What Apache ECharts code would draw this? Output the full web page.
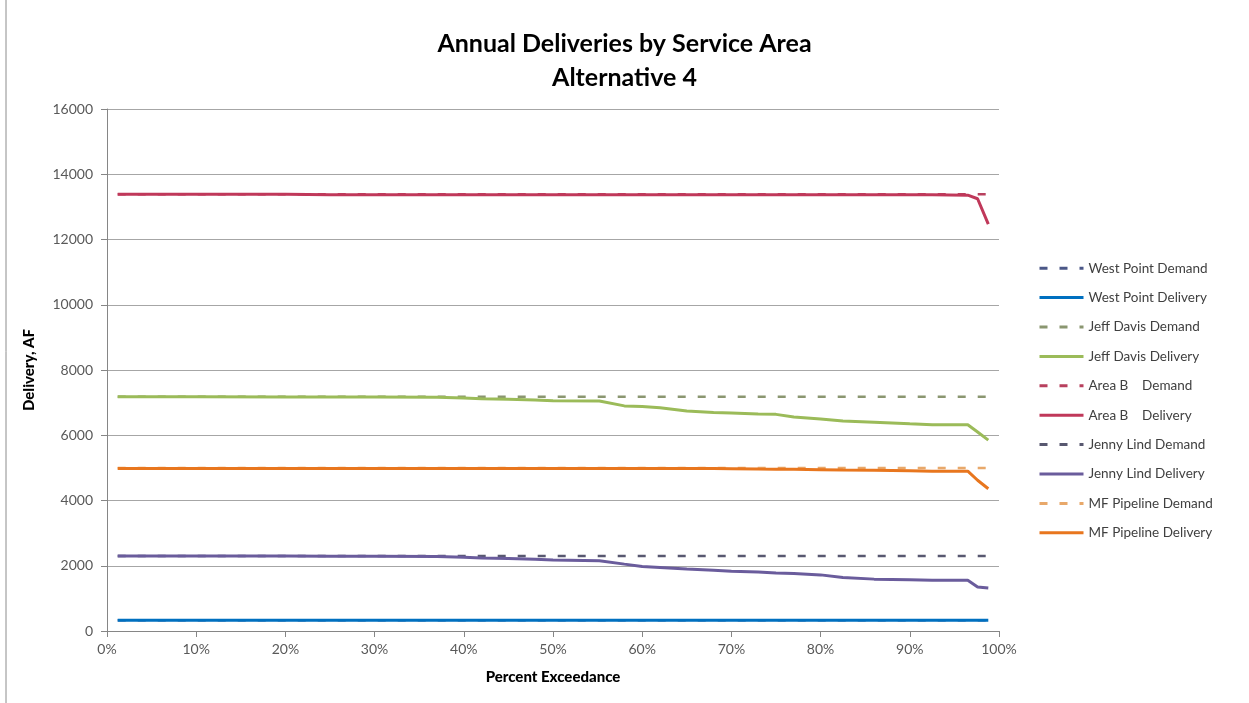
<!DOCTYPE html>
<html>
<head>
<meta charset="utf-8">
<script src="https://cdn.jsdelivr.net/npm/echarts@6/dist/echarts.min.js"></script>
<style>
  html, body { margin: 0; padding: 0; background: #fff; }
  #chart { width: 1249px; height: 703px; }
</style>
</head>
<body>
<div id="chart"></div>
<script>
// Percent exceedance positions (x) shared by every series
const exceedance = [1.2, 10, 20, 25, 30, 37, 40, 42, 45, 48, 50, 55.2, 58, 60, 62, 65, 68, 70, 73, 75, 77, 80, 82.5, 86, 90, 92.5, 96.5, 97.6, 98.8];

// Annual deliveries, AF
const westPointDemand   = [330, 330, 330, 330, 330, 330, 330, 330, 330, 330, 330, 330, 330, 330, 330, 330, 330, 330, 330, 330, 330, 330, 330, 330, 330, 330, 330, 330, 330];
const westPointDelivery = [330, 330, 330, 330, 330, 330, 330, 330, 330, 330, 330, 330, 330, 330, 330, 330, 330, 330, 330, 330, 330, 330, 330, 330, 330, 330, 330, 330, 330];
const jeffDavisDemand   = [7180, 7180, 7180, 7180, 7180, 7180, 7180, 7180, 7180, 7180, 7180, 7180, 7180, 7180, 7180, 7180, 7180, 7180, 7180, 7180, 7180, 7180, 7180, 7180, 7180, 7180, 7180, 7180, 7180];
const jeffDavisDelivery = [7180, 7180, 7175, 7170, 7170, 7165, 7140, 7120, 7100, 7080, 7060, 7050, 6900, 6880, 6840, 6740, 6700, 6680, 6650, 6640, 6560, 6500, 6440, 6400, 6350, 6320, 6320, 6100, 5850];
const areaBDemand       = [13390, 13390, 13390, 13390, 13390, 13390, 13390, 13390, 13390, 13390, 13390, 13390, 13390, 13390, 13390, 13390, 13390, 13390, 13390, 13390, 13390, 13390, 13390, 13390, 13390, 13390, 13390, 13390, 13390];
const areaBDelivery     = [13390, 13390, 13390, 13370, 13370, 13370, 13370, 13370, 13370, 13370, 13370, 13370, 13370, 13370, 13370, 13370, 13370, 13370, 13370, 13370, 13370, 13370, 13370, 13370, 13370, 13370, 13360, 13250, 12470];
const jennyLindDemand   = [2300, 2300, 2300, 2300, 2300, 2300, 2300, 2300, 2300, 2300, 2300, 2300, 2300, 2300, 2300, 2300, 2300, 2300, 2300, 2300, 2300, 2300, 2300, 2300, 2300, 2300, 2300, 2300, 2300];
const jennyLindDelivery = [2300, 2300, 2300, 2290, 2290, 2280, 2260, 2240, 2220, 2200, 2180, 2150, 2050, 1980, 1950, 1900, 1860, 1830, 1810, 1780, 1760, 1720, 1640, 1590, 1570, 1555, 1555, 1350, 1320];
const mfPipelineDemand  = [5000, 5000, 5000, 5000, 5000, 5000, 5000, 5000, 5000, 5000, 5000, 5000, 5000, 5000, 5000, 5000, 5000, 5000, 5000, 5000, 5000, 5000, 5000, 5000, 5000, 5000, 5000, 5000, 5000];
const mfPipelineDelivery= [4980, 4980, 4980, 4980, 4980, 4980, 4980, 4980, 4980, 4980, 4980, 4980, 4980, 4980, 4980, 4980, 4980, 4975, 4965, 4960, 4955, 4945, 4935, 4925, 4910, 4900, 4900, 4620, 4360];

const yTicks = [0, 2000, 4000, 6000, 8000, 10000, 12000, 14000, 16000];

const seriesDefs = [
  { name: 'West Point Demand',   data: westPointDemand,   color: '#4B5787', dashed: true },
  { name: 'West Point Delivery', data: westPointDelivery, color: '#0070C0', dashed: false },
  { name: 'Jeff Davis Demand',   data: jeffDavisDemand,   color: '#8A9670', dashed: true },
  { name: 'Jeff Davis Delivery', data: jeffDavisDelivery, color: '#9BBB59', dashed: false },
  { name: 'Area B    Demand',    data: areaBDemand,       color: '#B8405E', dashed: true },
  { name: 'Area B    Delivery',  data: areaBDelivery,     color: '#C0385A', dashed: false },
  { name: 'Jenny Lind Demand',   data: jennyLindDemand,   color: '#585870', dashed: true },
  { name: 'Jenny Lind Delivery', data: jennyLindDelivery, color: '#6A5C9C', dashed: false },
  { name: 'MF Pipeline Demand',  data: mfPipelineDemand,  color: '#E8A86A', dashed: true },
  { name: 'MF Pipeline Delivery',data: mfPipelineDelivery,color: '#E8761E', dashed: false }
];

const FONT = 'Lato, "Open Sans", sans-serif';

const chart = echarts.init(document.getElementById('chart'), null, { renderer: 'canvas' });

chart.setOption({
  backgroundColor: '#ffffff',
  animation: false,
  title: {
    text: 'Annual Deliveries by Service Area\nAlternative 4',
    left: 'center',
    top: 22,
    textStyle: {
      fontFamily: FONT,
      fontWeight: 'bold',
      fontSize: 25,
      lineHeight: 34,
      color: '#000'
    }
  },
  legend: {
    orient: 'vertical',
    left: 1038,
    top: 261,
    padding: 0,
    itemGap: 15,
    itemWidth: 44,
    itemHeight: 18,
    itemStyle: { opacity: 0 },
    lineStyle: { width: 3 },
    textStyle: { fontFamily: FONT, fontSize: 13.5, color: '#404040' },
    data: seriesDefs.map(s => s.name)
  },
  graphic: [
    { type: 'line', shape: { x1: 6, y1: 0, x2: 6, y2: 703 }, style: { stroke: '#8C8C8C', lineWidth: 1 } }
  ],
  grid: { left: 107, right: 250, top: 109, bottom: 72, containLabel: false },
  xAxis: {
    type: 'value',
    min: 0,
    max: 100,
    interval: 10,
    name: 'Percent Exceedance',
    nameLocation: 'middle',
    nameGap: 39,
    nameTextStyle: { fontFamily: FONT, fontWeight: 900, fontSize: 15, color: '#000' },
    axisLine: { show: true, lineStyle: { color: '#868686', width: 1 } },
    axisTick: { show: true, length: 6, lineStyle: { color: '#868686' } },
    axisLabel: { formatter: v => v + '%', fontFamily: FONT, fontSize: 14, color: '#595959', margin: 11 },
    splitLine: { show: false }
  },
  yAxis: {
    type: 'value',
    min: yTicks[0],
    max: yTicks[yTicks.length - 1],
    interval: yTicks[1] - yTicks[0],
    name: 'Delivery, AF',
    nameLocation: 'middle',
    nameGap: 70,
    nameRotate: 90,
    nameTextStyle: { fontFamily: FONT, fontWeight: 900, fontSize: 15, color: '#000' },
    axisLine: { show: true, lineStyle: { color: '#868686', width: 1 } },
    axisTick: { show: true, length: 6, lineStyle: { color: '#868686' } },
    axisLabel: { formatter: v => String(v), fontFamily: FONT, fontSize: 14, color: '#595959', margin: 14 },
    splitLine: { show: true, lineStyle: { color: '#A6A6A6', width: 1 } }
  },
  series: seriesDefs.map(s => ({
    name: s.name,
    type: 'line',
    symbol: 'none',
    smooth: false,
    color: s.color,
    data: exceedance.map((x, i) => [x, s.data[i]]),
    lineStyle: {
      color: s.color,
      width: s.dashed ? 2.5 : 3,
      type: s.dashed ? [8, 12] : 'solid',
      cap: 'butt'
    },
    itemStyle: { color: s.color }
  }))
});
</script>
</body>
</html>
